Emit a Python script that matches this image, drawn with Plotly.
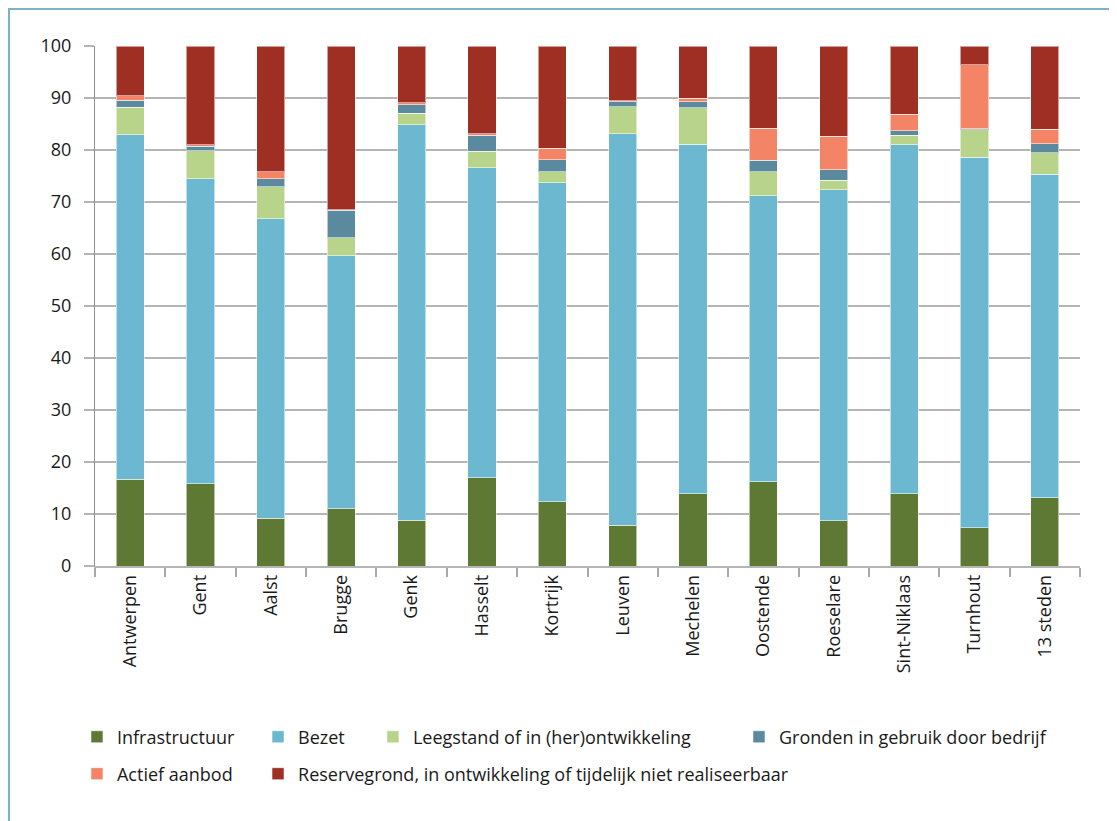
import plotly.graph_objects as go

categories = ["Antwerpen", "Gent", "Aalst", "Brugge", "Genk", "Hasselt", "Kortrijk",
              "Leuven", "Mechelen", "Oostende", "Roeselare", "Sint-Niklaas", "Turnhout", "13 steden"]

infrastructuur = [16.7, 15.8, 9.2, 11.0, 8.8, 17.0, 12.4, 7.8, 13.9, 16.2, 8.7, 13.9, 7.4, 13.1]
bezet = [66.2, 58.7, 57.6, 48.7, 76.1, 59.6, 61.3, 75.3, 67.2, 55.0, 63.7, 67.1, 71.2, 62.2]
leegstand = [5.3, 5.4, 6.1, 3.4, 2.2, 3.2, 2.1, 5.2, 7.0, 4.6, 1.8, 1.8, 5.3, 4.2]
gronden = [1.4, 0.8, 1.6, 5.3, 1.6, 3.0, 2.3, 1.0, 1.2, 2.2, 2.0, 0.9, 0.2, 1.7]
actief = [0.8, 0.3, 1.3, 0.1, 0.4, 0.3, 2.2, 0.2, 0.7, 6.2, 6.4, 3.2, 12.3, 2.8]
reserve = [9.6, 19.0, 24.2, 31.5, 10.9, 16.9, 19.7, 10.5, 10.0, 15.8, 17.4, 13.1, 3.6, 16.0]

series_names = ["Infrastructuur", "Bezet", "Leegstand of in (her)ontwikkeling",
                "Gronden in gebruik door bedrijf", "Actief aanbod",
                "Reservegrond, in ontwikkeling of tijdelijk niet realiseerbaar"]
series_values = [infrastructuur, bezet, leegstand, gronden, actief, reserve]
colors = ["#5e7934", "#6cb8d0", "#b8d48a", "#5b8a9e", "#f48466", "#9e2f22"]

# legend placement (one legend box per entry, to mimic original layout)
legend_ids = ["legend", "legend2", "legend3", "legend4", "legend5", "legend6"]
legend_x = [-0.0183, 0.1655, 0.2822, 0.6538, -0.0183, 0.1655]
legend_y = [-0.329, -0.329, -0.329, -0.329, -0.40, -0.40]

fig = go.Figure()
for name, vals, col, lid in zip(series_names, series_values, colors, legend_ids):
    fig.add_trace(go.Bar(
        x=categories, y=vals, name=name, showlegend=True,
        marker=dict(color=col, line=dict(color="rgba(255,255,255,0.55)", width=1)),
        legend=lid,
    ))

font_family = "Open Sans, Noto Sans, DejaVu Sans, sans-serif"
layout_legends = {}
for lid, lx, ly in zip(legend_ids, legend_x, legend_y):
    layout_legends[lid] = dict(
        x=lx, y=ly, xanchor="left", yanchor="middle", orientation="h",
        bgcolor="rgba(0,0,0,0)", borderwidth=0, visible=True,
        font=dict(family=font_family, size=18, color="#1a1a1a"),
    )

# page body adds an 8px offset; figure is sized/margined to compensate
W, H = 1109, 813
ML, MR, MT, MB = 87, 37, 38, 255
PW, PH = W - ML - MR, H - MT - MB

fig.update_layout(
    barmode="stack",
    bargap=0.6,
    showlegend=True,
    width=W, height=H,
    margin=dict(l=ML, r=MR, t=MT, b=MB, autoexpand=False),
    paper_bgcolor="#e9eef2",
    plot_bgcolor="rgba(0,0,0,0)",
    font=dict(family=font_family, size=18, color="#1a1a1a"),
    shapes=[dict(
        type="rect", xref="paper", yref="paper",
        x0=(1 - ML) / PW, x1=(W + 20 - ML) / PW,
        y0=(MT + PH - (H + 20)) / PH, y1=(MT + PH - 1) / PH,
        fillcolor="white", line=dict(color="#7db3c9", width=2), layer="below",
    )],
    **layout_legends,
)

fig.update_yaxes(
    range=[0, 100], dtick=10, tick0=0,
    showgrid=True, gridcolor="#b5b5b5", gridwidth=1.5,
    ticks="outside", ticklen=10, tickcolor="#b5b5b5", tickwidth=1.5,
    ticklabelstandoff=9,
    showline=True, linecolor="#8f8f8f", linewidth=1,
    zeroline=False,
    tickfont=dict(family=font_family, size=18, color="#1a1a1a"),
)
fig.update_xaxes(
    tickangle=-90,
    ticks="outside", tickson="boundaries", ticklen=9, tickcolor="#a8a8a8", tickwidth=1.5,
    showline=True, linecolor="#b5b5b5", linewidth=1.5,
    showgrid=False,
    tickfont=dict(family=font_family, size=18, color="#1a1a1a"),
)

fig.write_html("out.html")
